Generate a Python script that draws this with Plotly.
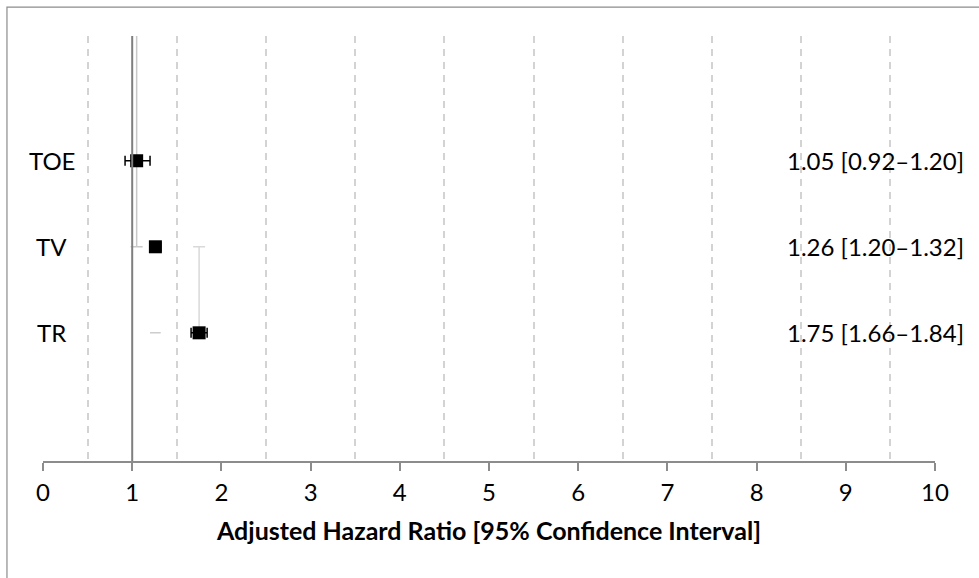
import plotly.graph_objects as go

labels = ["TOE", "TV", "TR"]
row_pos = [3, 2, 1]
hr = [1.05, 1.26, 1.75]
ci_low = [0.92, 1.20, 1.66]
ci_high = [1.20, 1.32, 1.84]
x_ticks = list(range(0, 11))

FONT = "Lato"
GRAY_LINE = "#d3d3d3"
AXIS_GRAY = "#8c8c8c"

fig = go.Figure()

# Stray gray connector / error-bar lines (as in the original chart)
fig.add_trace(go.Scatter(
    x=[hr[0]], y=[row_pos[1]], mode="markers",
    marker=dict(size=1, color="rgba(0,0,0,0)"),
    error_y=dict(type="data", symmetric=False, array=[5], arrayminus=[0],
                 color="#c8c8c8", thickness=1.5, width=6),
    hoverinfo="skip", showlegend=False))
fig.add_trace(go.Scatter(
    x=[hr[2]], y=[row_pos[2]], mode="markers",
    marker=dict(size=1, color="rgba(0,0,0,0)"),
    error_y=dict(type="data", symmetric=False,
                 array=[row_pos[1] - row_pos[2]], arrayminus=[0],
                 color="#d9d9d9", thickness=1.5, width=6),
    hoverinfo="skip", showlegend=False))
fig.add_trace(go.Scatter(
    x=[hr[1]], y=[row_pos[2]], mode="markers",
    marker=dict(size=1, color="rgba(0,0,0,0)"),
    error_x=dict(type="data", symmetric=False,
                 array=[ci_high[1] - hr[1]], arrayminus=[hr[1] - ci_low[1]],
                 color="#c0c0c0", thickness=1.2, width=0),
    hoverinfo="skip", showlegend=False))

# Main hazard ratio points with CIs
fig.add_trace(go.Scatter(
    x=hr, y=row_pos, mode="markers",
    marker=dict(symbol="square", size=13, color="black"),
    error_x=dict(type="data", symmetric=False,
                 array=[h - m for h, m in zip(ci_high, hr)],
                 arrayminus=[m - l for m, l in zip(hr, ci_low)],
                 color="black", thickness=1.5, width=5),
    showlegend=False))

# Reference line at HR = 1
fig.add_shape(type="line", xref="x", yref="paper", x0=1, x1=1, y0=0, y1=1,
              line=dict(color="#7f7f7f", width=2), layer="above")

# Outer chart border (partially cropped)
fig.add_shape(type="rect", xref="paper", yref="paper",
              x0=-0.0404, x1=1.08, y0=-0.35, y1=1.068,
              line=dict(color="#8c8c8c", width=1.2), fillcolor="rgba(0,0,0,0)")

for lab, y in zip(labels, row_pos):
    fig.add_annotation(x=0.1, y=y, xref="x", yref="y", text=lab,
                       showarrow=False, xanchor="center", yanchor="middle",
                       font=dict(family=FONT, size=24, color="black"))

for y, h, l, u in zip(row_pos, hr, ci_low, ci_high):
    fig.add_annotation(x=1.035, y=y, xref="paper", yref="y",
                       text=f"{h:.2f} [{l:.2f}\u2013{u:.2f}]",
                       showarrow=False, xanchor="right", yanchor="middle",
                       font=dict(family=FONT, size=24, color="black"))

fig.update_layout(
    width=979, height=578,
    margin=dict(l=43, r=44, t=36, b=117),
    paper_bgcolor="white", plot_bgcolor="white",
    font=dict(family=FONT, size=24, color="black"),
    hovermode=False,
    xaxis=dict(
        range=[0, 10], tickmode="array", tickvals=x_ticks,
        ticktext=[str(t) for t in x_ticks],
        showgrid=False, zeroline=False,
        showline=True, linecolor=AXIS_GRAY, linewidth=1.5,
        ticks="outside", ticklen=8, tickcolor=AXIS_GRAY, tickwidth=1.5,
        tickfont=dict(family=FONT, size=24, color="black"),
        ticklabelstandoff=1,
        minor=dict(tick0=0.5, dtick=1, showgrid=True, gridcolor=GRAY_LINE,
                   gridwidth=1.5, griddash="7px,6px", ticks=""),
        title=dict(text="<b>Adjusted Hazard Ratio [95% Confidence Interval]</b>",
                   font=dict(family=FONT, size=25, color="black"), standoff=18),
        automargin=False,
    ),
    yaxis=dict(range=[-0.49, 4.45], showgrid=False, zeroline=False,
               showticklabels=False, showline=False, ticks=""),
)

fig.write_html("out.html", config={"displayModeBar": False},
               post_script="document.body.style.margin='0px';")
